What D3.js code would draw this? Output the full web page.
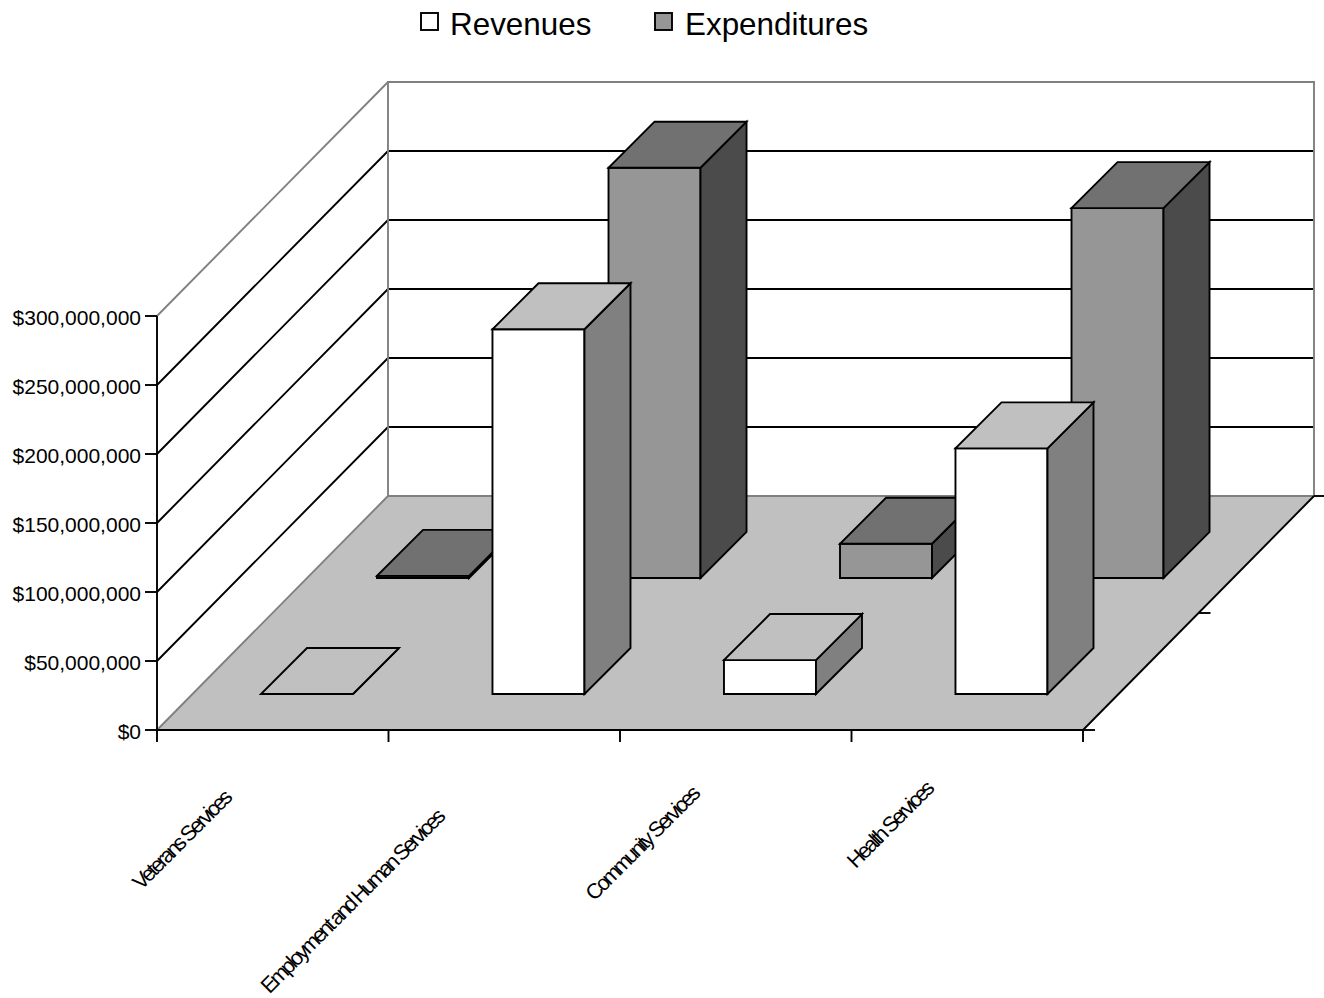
<!DOCTYPE html>
<html>
<head>
<meta charset="utf-8">
<script src="https://cdnjs.cloudflare.com/ajax/libs/d3/7.8.5/d3.min.js"></script>
<style>
  html, body { margin: 0; padding: 0; background: #fff; }
  svg { display: block; font-family: "Liberation Sans", Arial, sans-serif; }
</style>
</head>
<body>
<svg id="chart" width="1324" height="998"></svg>
<script>
// Departmental budget figures, in dollars
const categories = ["Veterans Services", "Employment and Human Services", "Community Services", "Health Services"];
const seriesNames = ["Revenues", "Expenditures"];
const revenues = [0, 264300000, 24600000, 178000000];
const expenditures = [1500000, 297300000, 24800000, 268000000];
const valueTicks = [0, 50000000, 100000000, 150000000, 200000000, 250000000, 300000000];

const svg = d3.select("#chart");

// Oblique projection: horizontal position, depth into the chart, value.
// The walls lean slightly less than the bars' 45-degree sides.
const originX = 157, originY = 730, plotWidth = 926, plotDepth = 234, wallSkew = 231 / 234;
const catIndex = d3.scaleLinear().domain([0, categories.length]).range([originX, originX + plotWidth]);
const y = d3.scaleLinear().domain([0, 300000000]).range([originY, 316]);
const depth = d3.scaleLinear().domain([0, seriesNames.length]).range([0, plotDepth]);
const project = (px, d, v) => [px + d * wallSkew, y(v) - d];
const projectBar = (px, d, v) => [px + d, y(v) - d];

const line = d3.line();
const poly = pts => line(pts) + "Z";
const topValue = y.domain()[1];
const right = originX + plotWidth;
const edgeWidth = 1.9;

// White back wall and shaded floor
svg.append("path").attr("fill", "#fff").attr("stroke", "none")
  .attr("d", poly([project(originX, 0, 0), project(originX, 0, topValue), project(originX, plotDepth, topValue),
                   project(right, plotDepth, topValue), project(right, plotDepth, 0), project(originX, plotDepth, 0)]));
svg.append("path").attr("fill", "#c0c0c0").attr("stroke", "none")
  .attr("d", poly([project(originX, 0, 0), project(right, 0, 0), project(right, plotDepth, 0), project(originX, plotDepth, 0)]));

// Grid lines run up the side wall and across the back wall
svg.append("g").selectAll("path").data(valueTicks.slice(1, -1)).join("path")
  .attr("fill", "none").attr("stroke", "#000").attr("stroke-width", edgeWidth)
  .attr("d", v => line([project(originX, 0, v), project(originX, plotDepth, v), project(right, plotDepth, v)]));

// Wall frame in mid grey
svg.append("path").attr("fill", "none").attr("stroke", "#808080").attr("stroke-width", edgeWidth)
  .attr("d", line([project(originX, 0, 0), project(originX, plotDepth, 0), project(originX, plotDepth, topValue),
                   project(right, plotDepth, topValue), project(right, plotDepth, 0), project(originX, plotDepth, 0)]));
svg.append("path").attr("fill", "none").attr("stroke", "#808080").attr("stroke-width", edgeWidth)
  .attr("d", line([project(originX, 0, topValue), project(originX, plotDepth, topValue)]));

// Right floor edge
svg.append("path").attr("fill", "none").attr("stroke", "#000").attr("stroke-width", edgeWidth)
  .attr("d", line([project(right, 0, 0), project(right, plotDepth, 0)]));

// Value axis
svg.append("g").attr("transform", `translate(${originX},0)`)
  .call(d3.axisLeft(y).offset(0).tickValues(valueTicks).tickFormat(d3.format("$,")).tickSize(12).tickSizeOuter(0).tickPadding(4))
  .call(g => g.selectAll("path,line").attr("stroke", "#000").attr("stroke-width", edgeWidth))
  .call(g => g.selectAll("text").attr("fill", "#000").attr("dy", "0.42em")
    .style("font-size", "21px").style("font-family", "Liberation Sans"));

// Category axis: ticks fall on the band boundaries
svg.append("g").attr("transform", `translate(0,${originY})`)
  .call(d3.axisBottom(catIndex).offset(0).tickValues(d3.range(categories.length + 1)).tickFormat("").tickSize(12).tickSizeOuter(0))
  .call(g => g.selectAll("path,line").attr("stroke", "#000").attr("stroke-width", edgeWidth));

// Depth axis ticks along the right floor edge
svg.append("g").selectAll("line").data(d3.range(seriesNames.length + 1)).join("line")
  .attr("stroke", "#000").attr("stroke-width", edgeWidth)
  .attr("x1", i => project(right, depth(i), 0)[0]).attr("x2", i => project(right, depth(i), 0)[0] + 12)
  .attr("y1", i => project(right, depth(i), 0)[1]).attr("y2", i => project(right, depth(i), 0)[1]);

// Bars: the back row draws first so the front row overlaps it
const band = d3.scaleBand().domain(d3.range(categories.length)).range([originX, right])
  .paddingInner(0.6026).paddingOuter(0.3013).align(0.5);
const row = d3.scaleBand().domain(d3.range(seriesNames.length)).range([0, plotDepth])
  .paddingInner(0.6034).paddingOuter(0.31);
const faces = [
  { front: "#ffffff", top: "#c0c0c0", side: "#808080" },
  { front: "#969696", top: "#717171", side: "#4b4b4b" }
];
const seriesValues = [revenues, expenditures];
const barOffset = -1.75;

[1, 0].forEach(s => {
  const d0 = row(s), d1 = d0 + row.bandwidth();
  const groups = svg.append("g").attr("stroke", "#000").attr("stroke-width", edgeWidth).attr("stroke-linejoin", "miter")
    .selectAll("g").data(seriesValues[s]).join("g");
  const xL = (v, i) => band(i) + barOffset, xR = (v, i) => band(i) + barOffset + band.bandwidth();
  groups.append("path").attr("fill", faces[s].front)
    .attr("d", (v, i) => poly([projectBar(xL(v, i), d0, 0), projectBar(xR(v, i), d0, 0), projectBar(xR(v, i), d0, v), projectBar(xL(v, i), d0, v)]));
  groups.append("path").attr("fill", faces[s].side)
    .attr("d", (v, i) => poly([projectBar(xR(v, i), d0, 0), projectBar(xR(v, i), d1, 0), projectBar(xR(v, i), d1, v), projectBar(xR(v, i), d0, v)]));
  groups.append("path").attr("fill", faces[s].top)
    .attr("d", (v, i) => poly([projectBar(xL(v, i), d0, v), projectBar(xR(v, i), d0, v), projectBar(xR(v, i), d1, v), projectBar(xL(v, i), d1, v)]));
});

// Slanted category labels, each placed by the end of its text
const labelEnds = [[232, 800], [445, 819], [700, 796], [934, 791]];
svg.append("g").selectAll("text").data(categories).join("text")
  .attr("transform", (c, i) => `translate(${labelEnds[i][0]},${labelEnds[i][1]}) rotate(-45)`)
  .attr("text-anchor", "end")
  .attr("fill", "#000")
  .style("font-size", "21.5px")
  .style("letter-spacing", "-2.65px")
  .text(c => c);

// Legend
const swatchX = [421, 655], legendTextX = [450, 685];
const legend = svg.append("g").selectAll("g").data(seriesNames).join("g");
legend.append("rect")
  .attr("x", (n, i) => swatchX[i]).attr("y", 13).attr("width", 17).attr("height", 17)
  .attr("fill", (n, i) => faces[i].front).attr("stroke", "#000").attr("stroke-width", edgeWidth);
legend.append("text")
  .attr("x", (n, i) => legendTextX[i]).attr("y", 35)
  .attr("fill", "#000").style("font-size", "31.4px")
  .text(n => n);
</script>
</body>
</html>
